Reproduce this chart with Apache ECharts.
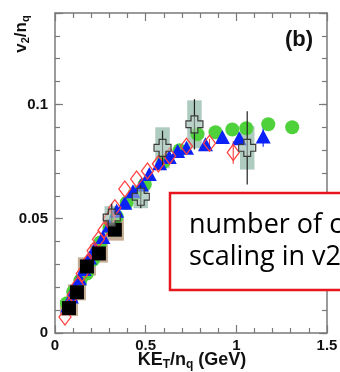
<!DOCTYPE html>
<html><head><meta charset="utf-8">
<script src="https://cdn.jsdelivr.net/npm/echarts@6/dist/echarts.min.js"></script>
<style>html,body{margin:0;padding:0;background:#fff}#c{width:340px;height:372px}</style>
</head><body><div id="c"></div>
<script>
// Green circles
const greenX = [0.066, 0.1, 0.14, 0.176, 0.21, 0.25, 0.3, 0.34, 0.395, 0.44, 0.495, 0.6, 0.687, 0.786, 0.885, 0.978, 1.055, 1.176, 1.308];
const greenY = [0.013, 0.018, 0.023, 0.026, 0.032, 0.0396, 0.046, 0.051, 0.057, 0.061, 0.065, 0.075, 0.080, 0.087, 0.0878, 0.089, 0.0896, 0.0913, 0.090];
const greenErr = [0, 0, 0, 0, 0, 0, 0, 0, 0, 0, 0, 0, 0, 0, 0, 0, 0.001, 0.0015, 0.002];
// Blue triangles
const blueX = [0.07, 0.09, 0.11, 0.135, 0.16, 0.19, 0.22, 0.264, 0.3, 0.34, 0.385, 0.43, 0.477, 0.52, 0.577, 0.63, 0.676, 0.725, 0.83, 0.923, 1.016, 1.148];
const blueY = [0.012, 0.016, 0.02, 0.024, 0.028, 0.033, 0.037, 0.042, 0.047, 0.0535, 0.057, 0.062, 0.065, 0.0696, 0.0743, 0.077, 0.0796, 0.081, 0.0826, 0.0857, 0.0852, 0.086];
const blueErr = [0, 0, 0, 0, 0, 0, 0, 0, 0, 0, 0, 0, 0, 0, 0, 0, 0, 0, 0, 0.001, 0.002, 0.0045];
// Red open diamonds
const redX = [0.055, 0.08, 0.1, 0.125, 0.15, 0.18, 0.21, 0.24, 0.27, 0.3, 0.33, 0.385, 0.45, 0.51, 0.57, 0.632, 0.725, 0.852, 0.983];
const redY = [0.007, 0.012, 0.0165, 0.021, 0.026, 0.031, 0.036, 0.041, 0.045, 0.05, 0.0548, 0.063, 0.0674, 0.0709, 0.074, 0.0774, 0.0817, 0.083, 0.079];
const redErr = [0, 0, 0, 0, 0, 0, 0, 0, 0, 0, 0, 0, 0, 0, 0, 0, 0.001, 0.002, 0.005];
// Black squares with systematic boxes
const sqX = [0.077, 0.121, 0.176, 0.242, 0.33];
const sqY = [0.0109, 0.0178, 0.0291, 0.0348, 0.0452];
const sqErr = [0.002, 0.002, 0.003, 0.003, 0.003];
const sqSys = [0.0035, 0.0035, 0.004, 0.004, 0.0048];
// Open crosses with systematic boxes
const crX = [0.313, 0.473, 0.593, 0.769, 1.06];
const crY = [0.0505, 0.0596, 0.081, 0.0913, 0.081];
const crErr = [0.006, 0.005, 0.0075, 0.011, 0.016];
const crSys = [0.005, 0.005, 0.009, 0.0105, 0.0095];
// Tick labels
const xTicks = [0, 0.5, 1, 1.5];
const yTicks = [0, 0.05, 0.1];

const zip = (a, b, c) => a.map((v, i) => c ? [v, b[i], c[i]] : [v, b[i]]);
const font = 'Liberation Sans, Arial, sans-serif';
const axisCol = '#7a7a7a';

function boxRender(halfW, fill) {
  return function (params, api) {
    const x = api.value(0), y = api.value(1), e = api.value(2);
    const p1 = api.coord([x - halfW, y + e]);
    const p2 = api.coord([x + halfW, y - e]);
    return { type: 'rect', shape: { x: p1[0], y: p1[1], width: p2[0] - p1[0], height: p2[1] - p1[1] }, style: { fill: fill } };
  };
}
function errRender(stroke, lw) {
  return function (params, api) {
    const x = api.value(0), y = api.value(1), e = api.value(2);
    if (!e) return null;
    const p1 = api.coord([x, y + e]);
    const p2 = api.coord([x, y - e]);
    return { type: 'line', shape: { x1: p1[0], y1: p1[1], x2: p2[0], y2: p2[1] }, style: { stroke: stroke, lineWidth: lw } };
  };
}
const crossPath = 'path://M3,0 L7,0 L7,3 L10,3 L10,7 L7,7 L7,10 L3,10 L3,7 L0,7 L0,3 L3,3 Z';

function xAx(pos, showLabel) {
  return {
    type: 'value', position: pos, min: 0, max: 1.5, interval: 0.5,
    axisLine: { show: true, onZero: false, lineStyle: { color: axisCol, width: 1.5 } },
    axisTick: { show: true, inside: true, length: 8, lineStyle: { color: axisCol, width: 1.2 } },
    minorTick: { show: true, splitNumber: 5, length: 5, lineStyle: { color: axisCol, width: 1.2 } },
    axisLabel: { show: showLabel, margin: 5, color: '#111', fontWeight: 'bold', fontSize: 15, fontFamily: font,
      formatter: v => (xTicks.some(t => Math.abs(t - v) < 1e-9) ? String(v) : '') },
    splitLine: { show: false }
  };
}
function yAx(pos, interval, len, showLabel, showLine) {
  return {
    type: 'value', position: pos, min: 0, max: 0.14, interval: interval,
    axisLine: { show: showLine, onZero: false, lineStyle: { color: axisCol, width: 1.5 } },
    axisTick: { show: true, inside: true, length: len, lineStyle: { color: axisCol, width: 1.2 } },
    axisLabel: { show: showLabel, margin: 7, color: '#111', fontWeight: 'bold', fontSize: 15, fontFamily: font,
      formatter: v => { const t = yTicks.find(t => Math.abs(t - v) < 1e-9); return t === undefined ? '' : String(t); } },
    splitLine: { show: false }
  };
}

const chart = echarts.init(document.getElementById('c'), null, { renderer: 'canvas' });
chart.setOption({
  animation: false,
  backgroundColor: '#fff',
  grid: { left: 55, right: 13, top: 13, bottom: 39, containLabel: false, outerBoundsMode: 'none' },
  xAxis: [xAx('bottom', true), xAx('top', false)],
  yAxis: [yAx('left', 0.01, 5, true, true), yAx('left', 0.05, 8, false, false), yAx('right', 0.01, 5, false, true), yAx('right', 0.05, 8, false, false)],
  series: [
    { type: 'custom', name: 'crossSys', renderItem: boxRender(0.04, 'rgba(120,168,148,0.6)'), data: zip(crX, crY, crSys), z: 1 },
    { type: 'custom', name: 'sqSys', renderItem: boxRender(0.05, 'rgba(160,120,80,0.6)'), data: zip(sqX, sqY, sqSys), z: 1 },
    { type: 'custom', name: 'greenErr', renderItem: errRender('#44cc33', 1.2), data: zip(greenX, greenY, greenErr), z: 2 },
    { type: 'scatter', name: 'green', data: zip(greenX, greenY), symbol: 'circle', symbolSize: 14,
      itemStyle: { color: '#4fd13c', opacity: 1 }, z: 3 },
    { type: 'custom', name: 'blueErr', renderItem: errRender('#1a33ff', 1.2), data: zip(blueX, blueY, blueErr), z: 3 },
    { type: 'scatter', name: 'blue', data: zip(blueX, blueY), symbol: 'triangle', symbolSize: [15, 14],
      itemStyle: { color: '#0a22f5', opacity: 1 }, z: 4 },
    { type: 'custom', name: 'redErr', renderItem: errRender('#ff4a4a', 1.2), data: zip(redX, redY, redErr), z: 4 },
    { type: 'scatter', name: 'red', data: zip(redX, redY), symbol: 'diamond', symbolSize: [12, 16],
      itemStyle: { color: 'rgba(255,255,255,0)', borderColor: '#ff4040', borderWidth: 1.3, opacity: 1 }, z: 5 },
    { type: 'custom', name: 'sqErr', renderItem: errRender('#33d6e6', 1.2), data: zip(sqX, sqY, sqErr), z: 5 },
    { type: 'scatter', name: 'squares', data: zip(sqX, sqY), symbol: 'rect', symbolSize: 14,
      itemStyle: { color: '#000', opacity: 1 }, z: 6 },
    { type: 'custom', name: 'crossErr', renderItem: errRender('#222', 1.2), data: zip(crX, crY, crErr), z: 6 },
    { type: 'scatter', name: 'crosses', data: zip(crX, crY), symbol: crossPath, symbolSize: 17,
      itemStyle: { color: 'rgba(200,220,212,0.5)', borderColor: '#3a3a3a', borderWidth: 1.2, opacity: 1 }, z: 7 }
  ],
  graphic: [
    { type: 'text', z: 100, x: 21, y: 34, rotation: Math.PI / 2,
      style: { text: '{a|v}{s|2}{a|/n}{s|q}', align: 'center', verticalAlign: 'middle', fill: '#111',
        rich: { a: { fontSize: 17, fontWeight: 'bold', fontFamily: font, lineHeight: 20, fill: '#111' },
                s: { fontSize: 11, fontWeight: 'bold', fontFamily: font, lineHeight: 12, verticalAlign: 'bottom', fill: '#111' } } } },
    { type: 'text', z: 100, x: 192, y: 360,
      style: { text: '{a|KE}{s|T}{a|/n}{s|q}{a| (GeV)}', align: 'center', verticalAlign: 'middle', fill: '#111',
        rich: { a: { fontSize: 18, fontWeight: 'bold', fontFamily: font, lineHeight: 21, fill: '#111' },
                s: { fontSize: 12, fontWeight: 'bold', fontFamily: font, lineHeight: 13, verticalAlign: 'bottom', fill: '#111' } } } },
    { type: 'text', z: 100, x: 299, y: 40,
      style: { text: '(b)', align: 'center', verticalAlign: 'middle', fill: '#111', font: 'bold 22px ' + font } },
    { type: 'rect', z: 100, shape: { x: 170, y: 193, width: 200, height: 97 },
      style: { fill: '#fff', stroke: '#e8141e', lineWidth: 2.5 } },
    { type: 'text', z: 101, x: 189, y: 225,
      style: { text: 'number of c', align: 'left', verticalAlign: 'middle', fill: '#000', font: '27px "Open Sans", sans-serif' } },
    { type: 'text', z: 101, x: 189, y: 257,
      style: { text: 'scaling in v2', align: 'left', verticalAlign: 'middle', fill: '#000', font: '27px "Open Sans", sans-serif' } }
  ]
});
</script></body></html>
